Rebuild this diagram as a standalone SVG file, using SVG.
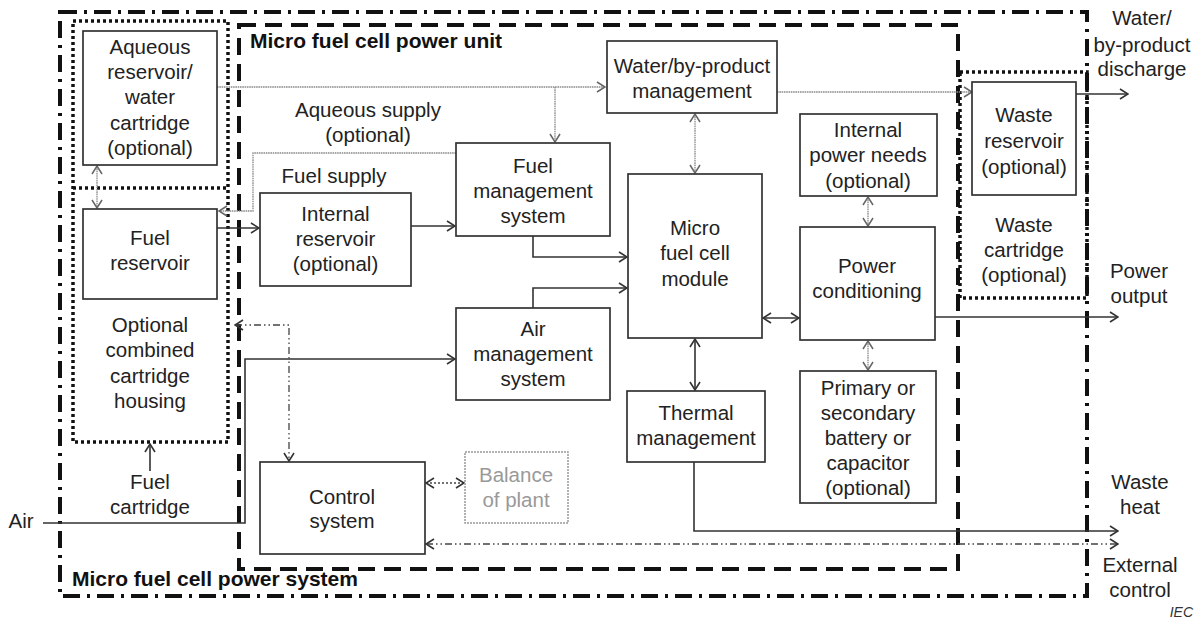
<svg xmlns="http://www.w3.org/2000/svg" width="1199" height="624" viewBox="0 0 1199 624">
<style>
.t{font-family:"Liberation Sans",Arial,Helvetica,sans-serif;font-size:20.5px;fill:#222;text-anchor:middle}
.b{font-family:"Liberation Sans",Arial,Helvetica,sans-serif;font-size:21px;font-weight:bold;fill:#111}
.n{fill:#fff;stroke:#333;stroke-width:1.7}
.bop{fill:#fff;stroke:#999;stroke-width:1.5;stroke-dasharray:2 1}
.bopt{fill:#999}
.c{fill:none;stroke:#333;stroke-width:1.6}
.g{fill:none;stroke:#8a8a8a;stroke-width:1.3;stroke-dasharray:1.6 0.7}
.dd{fill:none;stroke:#444;stroke-width:1.3;stroke-dasharray:7 3 1.5 3 1.5 3}
.dt{fill:none;stroke:#444;stroke-width:1.3;stroke-dasharray:2 2}
.sys{fill:none;stroke:#111;stroke-width:4;stroke-dasharray:17 7 3 7}
.unit{fill:none;stroke:#111;stroke-width:4;stroke-dasharray:17 9}
.dot{fill:none;stroke:#111;stroke-width:3.5;stroke-dasharray:3 3}
</style>
<defs>
<marker id="a" viewBox="0 0 10 12" refX="9" refY="6" markerWidth="10" markerHeight="12" markerUnits="userSpaceOnUse" orient="auto-start-reverse">
<path d="M1,1 L9,6 L1,11" fill="none" stroke="#333" stroke-width="1.6"/>
</marker>
<marker id="ag" viewBox="0 0 10 12" refX="9" refY="6" markerWidth="10" markerHeight="12" markerUnits="userSpaceOnUse" orient="auto-start-reverse">
<path d="M1,1 L9,6 L1,11" fill="none" stroke="#666" stroke-width="1.5"/>
</marker>
</defs>
<rect width="1199" height="624" fill="#fff"/>

<g id="boundaries">
<rect class="sys" x="60" y="12" width="1027" height="584"/>
<rect class="unit" x="239" y="25" width="719" height="544"/>
<rect class="dot" x="73" y="21" width="155" height="421"/>
<line class="dot" x1="73" y1="188" x2="228" y2="188"/>
<rect class="dot" x="960" y="72" width="127" height="226"/>
<text class="b" x="250" y="48">Micro fuel cell power unit</text>
<text class="b" x="72" y="586">Micro fuel cell power system</text>
</g>

<g id="connectors">
<path class="g" d="M217,87 H605" marker-end="url(#ag)"/>
<path class="g" d="M555,87 V142" marker-end="url(#ag)"/>
<path class="g" d="M777,92 H972" marker-end="url(#ag)"/>
<path class="g" d="M456,153 H253 V211 H219" marker-end="url(#ag)"/>
<path class="g" d="M695,114 V173" marker-start="url(#ag)" marker-end="url(#ag)"/>
<path class="g" d="M97,166 V208" marker-start="url(#ag)" marker-end="url(#ag)"/>
<path class="g" d="M868,197 V226" marker-start="url(#ag)" marker-end="url(#ag)"/>
<path class="g" d="M868,341 V370" marker-start="url(#ag)" marker-end="url(#ag)"/>
<path class="c" d="M217,228 H259" marker-end="url(#a)"/>
<path class="c" d="M411,226 H455" marker-end="url(#a)"/>
<path class="c" d="M533,236 V257 H627" marker-end="url(#a)"/>
<path class="c" d="M533,308 V288 H627" marker-end="url(#a)"/>
<path class="c" d="M43,523 H245 V359 H455" marker-end="url(#a)"/>
<path class="c" d="M695,339 V390" marker-start="url(#a)" marker-end="url(#a)"/>
<path class="c" d="M763,318 H799" marker-start="url(#a)" marker-end="url(#a)"/>
<path class="c" d="M935,317 H1118" marker-end="url(#a)"/>
<path class="c" d="M694,462 V531 H1118" marker-end="url(#a)"/>
<path class="c" d="M1076,94 H1128" marker-end="url(#a)"/>
<path class="c" d="M150,471 V444" marker-end="url(#a)"/>
<path class="dd" d="M235,325 H289 V461" marker-start="url(#a)" marker-end="url(#a)"/>
<path class="dt" d="M426,483 H464" marker-start="url(#a)" marker-end="url(#a)"/>
<path class="dd" d="M426,544 H1118" marker-start="url(#a)" marker-end="url(#a)"/>
</g>

<g id="aqueous-reservoir">
<rect class="n" x="83" y="31" width="134" height="134"/>
<text class="t" x="150" y="54">Aqueous</text>
<text class="t" x="150" y="79">reservoir/</text>
<text class="t" x="150" y="104">water</text>
<text class="t" x="150" y="130">cartridge</text>
<text class="t" x="150" y="155">(optional)</text>
</g>
<g id="fuel-reservoir">
<rect class="n" x="83" y="209" width="134" height="90"/>
<text class="t" x="150" y="245">Fuel</text>
<text class="t" x="150" y="270">reservoir</text>
</g>
<g id="cartridge-housing">
<text class="t" x="150" y="332">Optional</text>
<text class="t" x="150" y="357">combined</text>
<text class="t" x="150" y="383">cartridge</text>
<text class="t" x="150" y="408">housing</text>
</g>
<g id="fuel-cartridge">
<text class="t" x="150" y="489">Fuel</text>
<text class="t" x="150" y="514">cartridge</text>
</g>
<g id="air">
<text class="t" x="21" y="528">Air</text>
</g>
<g id="aqueous-supply">
<text class="t" x="368" y="117">Aqueous supply</text>
<text class="t" x="368" y="142">(optional)</text>
</g>
<g id="fuel-supply">
<text class="t" x="334" y="183">Fuel supply</text>
</g>
<g id="internal-reservoir">
<rect class="n" x="260" y="193" width="151" height="93"/>
<text class="t" x="335.5" y="221">Internal</text>
<text class="t" x="335.5" y="246">reservoir</text>
<text class="t" x="335.5" y="271">(optional)</text>
</g>
<g id="fuel-management">
<rect class="n" x="456" y="143" width="154" height="93"/>
<text class="t" x="533" y="173">Fuel</text>
<text class="t" x="533" y="198">management</text>
<text class="t" x="533" y="223">system</text>
</g>
<g id="water-management">
<rect class="n" x="607" y="41" width="170" height="72"/>
<text class="t" x="692" y="73">Water/by-product</text>
<text class="t" x="692" y="98">management</text>
</g>
<g id="fuel-cell-module">
<rect class="n" x="628" y="174" width="134" height="164"/>
<text class="t" x="695" y="235">Micro</text>
<text class="t" x="695" y="260">fuel cell</text>
<text class="t" x="695" y="286">module</text>
</g>
<g id="air-management">
<rect class="n" x="456" y="308" width="154" height="92"/>
<text class="t" x="533" y="336">Air</text>
<text class="t" x="533" y="361">management</text>
<text class="t" x="533" y="386">system</text>
</g>
<g id="thermal-management">
<rect class="n" x="627" y="391" width="138" height="71"/>
<text class="t" x="696" y="420">Thermal</text>
<text class="t" x="696" y="445">management</text>
</g>
<g id="internal-power-needs">
<rect class="n" x="800" y="114" width="137" height="82"/>
<text class="t" x="868" y="137">Internal</text>
<text class="t" x="868" y="162">power needs</text>
<text class="t" x="868" y="188">(optional)</text>
</g>
<g id="power-conditioning">
<rect class="n" x="800" y="227" width="135" height="113"/>
<text class="t" x="867" y="273">Power</text>
<text class="t" x="867" y="298">conditioning</text>
</g>
<g id="battery">
<rect class="n" x="800" y="371" width="136" height="132"/>
<text class="t" x="868" y="395">Primary or</text>
<text class="t" x="868" y="420">secondary</text>
<text class="t" x="868" y="445">battery or</text>
<text class="t" x="868" y="470">capacitor</text>
<text class="t" x="868" y="495">(optional)</text>
</g>
<g id="waste-reservoir">
<rect class="n" x="972" y="82" width="104" height="113"/>
<text class="t" x="1024" y="122">Waste</text>
<text class="t" x="1024" y="148">reservoir</text>
<text class="t" x="1024" y="174">(optional)</text>
</g>
<g id="waste-cartridge">
<text class="t" x="1024" y="232">Waste</text>
<text class="t" x="1024" y="257">cartridge</text>
<text class="t" x="1024" y="282">(optional)</text>
</g>
<g id="control-system">
<rect class="n" x="260" y="462" width="165" height="92"/>
<text class="t" x="342" y="504">Control</text>
<text class="t" x="342" y="528">system</text>
</g>
<g id="balance-of-plant">
<rect class="bop" x="465" y="452" width="103" height="71"/>
<text class="t bopt" x="516" y="482">Balance</text>
<text class="t bopt" x="516" y="507">of plant</text>
</g>
<g id="outputs">
<text class="t" x="1142" y="25">Water/</text>
<text class="t" x="1142" y="52">by-product</text>
<text class="t" x="1142" y="76">discharge</text>
<text class="t" x="1139" y="278">Power</text>
<text class="t" x="1139" y="303">output</text>
<text class="t" x="1140" y="489">Waste</text>
<text class="t" x="1140" y="514">heat</text>
<text class="t" x="1140" y="572">External</text>
<text class="t" x="1140" y="597">control</text>
<text x="1193" y="617" style="font-family:'Liberation Sans',Arial,sans-serif;font-size:14px;font-style:italic;fill:#333;text-anchor:end">IEC</text>
</g>
</svg>
